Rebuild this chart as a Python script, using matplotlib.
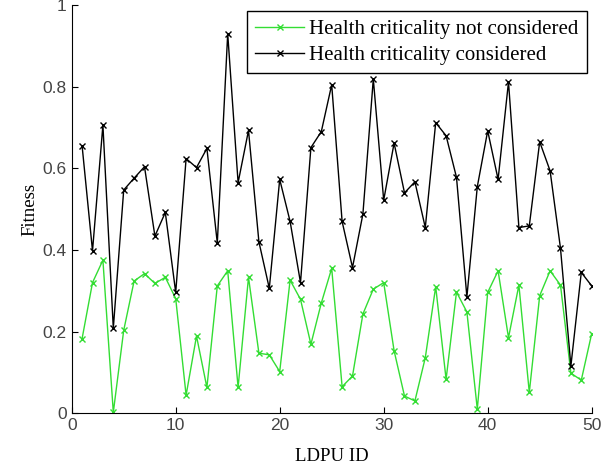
import numpy as np
import matplotlib.pyplot as plt

# LDPU ids and fitness values
ldpu_id = np.arange(1, 51)
fit_not_considered = [0.183, 0.320, 0.375, 0.002, 0.203, 0.324, 0.342, 0.318, 0.333, 0.281,
                      0.044, 0.189, 0.063, 0.312, 0.349, 0.063, 0.333, 0.147, 0.143, 0.102,
                      0.326, 0.279, 0.169, 0.270, 0.355, 0.065, 0.091, 0.243, 0.304, 0.320,
                      0.153, 0.042, 0.030, 0.136, 0.310, 0.083, 0.297, 0.248, 0.010, 0.296,
                      0.349, 0.185, 0.314, 0.051, 0.288, 0.349, 0.314, 0.098, 0.081, 0.195]
fit_considered = [0.655, 0.398, 0.706, 0.208, 0.547, 0.576, 0.604, 0.434, 0.492, 0.296,
                  0.624, 0.602, 0.649, 0.417, 0.930, 0.565, 0.693, 0.420, 0.306, 0.573,
                  0.470, 0.320, 0.651, 0.690, 0.805, 0.470, 0.357, 0.488, 0.819, 0.522,
                  0.662, 0.540, 0.567, 0.455, 0.712, 0.680, 0.578, 0.285, 0.555, 0.692,
                  0.573, 0.812, 0.455, 0.459, 0.665, 0.594, 0.404, 0.116, 0.345, 0.312]
x_ticks = [0, 10, 20, 30, 40, 50]
y_ticks = [0, 0.2, 0.4, 0.6, 0.8, 1]
y_ticklabels = ['0', '0.2', '0.4', '0.6', '0.8', '1']

fig = plt.figure(figsize=(6.15, 4.69), dpi=100)
ax = fig.add_axes([0.1166, 0.119, 0.8455, 0.87])

ax.plot(ldpu_id, fit_not_considered, color='#33dd33', marker='x', markersize=5,
        linewidth=1, label='Health criticality not considered')
ax.plot(ldpu_id, fit_considered, color='black', marker='x', markersize=5,
        linewidth=1, label='Health criticality considered')

ax.set_xlim(0, 50)
ax.set_ylim(0, 1)
ax.set_xticks(x_ticks)
ax.set_yticks(y_ticks)
ax.set_yticklabels(y_ticklabels)
ax.spines['top'].set_visible(False)
ax.spines['right'].set_visible(False)
ax.tick_params(direction='in', length=4, labelsize=12.5)
for lab in ax.get_xticklabels() + ax.get_yticklabels():
    lab.set_fontfamily('Liberation Sans')
    lab.set_color('#444444')

ax.set_xlabel('LDPU ID', family='Liberation Serif', fontsize=13.5, labelpad=11)
ax.set_ylabel('Fitness', family='Liberation Serif', fontsize=13.5, labelpad=3)

leg = ax.legend(loc='upper right', bbox_to_anchor=(0.991, 0.985),
                prop={'family': 'Liberation Serif', 'size': 15},
                fancybox=False, edgecolor='black', framealpha=1,
                handlelength=2.35, handletextpad=0.25, borderpad=0.4,
                labelspacing=0.3, borderaxespad=0, markerscale=0.8)
leg.get_frame().set_linewidth(1)

fig.savefig('out.png', dpi=100)
